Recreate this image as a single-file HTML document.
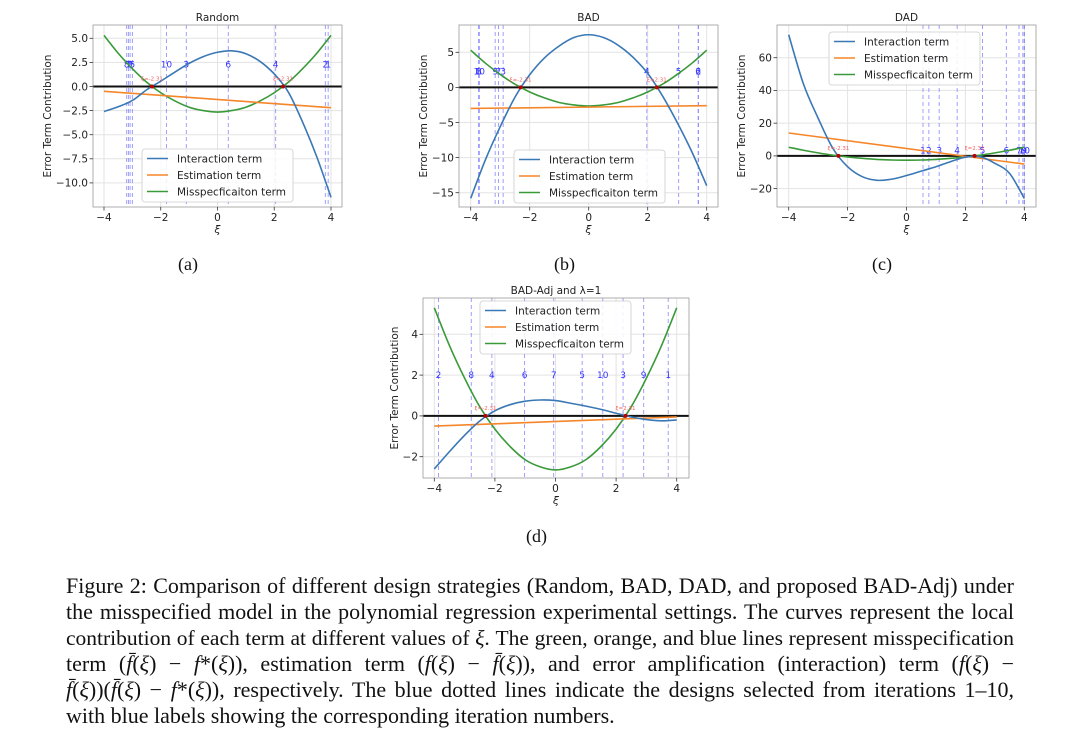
<!DOCTYPE html>
<html><head><meta charset="utf-8">
<style>
body{margin:0;background:#fff;}
#wrap{position:relative;width:1080px;height:754px;overflow:hidden;background:#fff;}
svg{position:absolute;left:0;top:0;}
.cap{position:absolute;left:66px;width:948px;font-family:"Liberation Serif",serif;font-size:22px;line-height:26px;white-space:nowrap;text-align:justify;text-align-last:justify;color:#111;}
.sub{position:absolute;font-family:"Liberation Serif",serif;font-size:18px;color:#111;}
</style></head>
<body>
<div id="wrap">
<svg id="svg" width="1080" height="754" xmlns="http://www.w3.org/2000/svg"></svg>
<div class="sub" style="left:178px;top:254px">(a)</div>
<div class="sub" style="left:554px;top:254px">(b)</div>
<div class="sub" style="left:872px;top:254px">(c)</div>
<div class="sub" style="left:526px;top:526px">(d)</div>
<div class="cap" style="top:573px">Figure 2: Comparison of different design strategies (Random, BAD, DAD, and proposed BAD-Adj) under</div>
<div class="cap" style="top:599px">the misspecified model in the polynomial regression experimental settings. The curves represent the local</div>
<div class="cap" style="top:625px">contribution of each term at different values of <i>ξ</i>. The green, orange, and blue lines represent misspecification</div>
<div class="cap" style="top:651px">term (<i>f̄</i>(<i>ξ</i>) − <i>f</i>*(<i>ξ</i>)), estimation term (<i>f</i>(<i>ξ</i>) − <i>f̄</i>(<i>ξ</i>)), and error amplification (interaction) term (<i>f</i>(<i>ξ</i>) −</div>
<div class="cap" style="top:677px"><i>f̄</i>(<i>ξ</i>))(<i>f̄</i>(<i>ξ</i>) − <i>f</i>*(<i>ξ</i>)), respectively. The blue dotted lines indicate the designs selected from iterations 1–10,</div>
<div class="cap" id="lastcap" style="top:703px;text-align-last:left">with blue labels showing the corresponding iteration numbers.</div>
</div>
<script>
// ---- shared data ----
const xGrid = [-4,-3.5,-3,-2.5,-2,-1.5,-1,-0.5,0,0.5,1,1.5,2,2.5,3,3.5,4];
const greenVals = [5.3,3.45,1.85,0.45,-0.65,-1.5,-2.15,-2.5,-2.65,-2.5,-2.15,-1.5,-0.65,0.45,1.85,3.45,5.3];
const orangeX = [-4,4];
const roots = [-2.31,2.31];
// ---- panel (a) Random ----
const blueA = [-2.6,-2.1,-1.45,-0.35,0.55,1.5,2.4,3.1,3.55,3.7,3.4,2.6,1.3,-0.6,-3.7,-7.3,-11.5];
const orangeA = [-0.5,-2.2];
const designsA = [3.9,3.8,-1.1,2.05,-3.0,0.38,-3.14,-3.2,-3.08,-1.8];
const yTicksA = [5,2.5,0,-2.5,-5,-7.5,-10];
const yTickLabelsA = ["5.0","2.5","0.0","−2.5","−5.0","−7.5","−10.0"];
// ---- panel (b) BAD ----
const blueB = [-15.8,-10.3,-5.6,-1.4,1.8,4.2,5.9,7.1,7.5,7.1,6.0,4.3,2.0,-1.2,-5.0,-9.2,-14.0];
const orangeB = [-3.0,-2.6];
const designsB = [-3.73,3.72,-2.9,1.97,3.05,3.71,-3.06,-3.72,-3.17,-3.71];
const yTicksB = [5,0,-5,-10,-15];
const yTickLabelsB = ["5","0","−5","−10","−15"];
// ---- panel (c) DAD ----
const blueC = [74,44,23,4.6,-6.6,-12.7,-14.9,-14.2,-12,-9.3,-6.6,-3.5,-0.8,-0.5,-4.5,-10.7,-26];
const orangeC = [14,-5];
const designsC = [0.56,0.76,1.11,1.72,2.58,3.39,3.82,3.95,4.0,4.0];
const yTicksC = [60,40,20,0,-20];
const yTickLabelsC = ["60","40","20","0","−20"];
// ---- panel (d) BAD-Adj ----
const blueD = [-2.6,-1.75,-0.95,-0.25,0.25,0.55,0.72,0.78,0.75,0.62,0.48,0.32,0.13,-0.05,-0.18,-0.24,-0.2];
const orangeD = [-0.5,-0.05];
const designsD = [3.72,-3.86,2.23,-2.1,0.88,-1.02,-0.06,-2.78,2.91,1.56];
const yTicksD = [4,2,0,-2];
const yTickLabelsD = ["4","2","0","−2"];
const xTicks = [-4,-2,0,2,4];
const xTickLabels = ["−4","−2","0","2","4"];

const NS="http://www.w3.org/2000/svg";
const svg=document.getElementById('svg');
function mk(tag,attrs,parent){const e=document.createElementNS(NS,tag);for(const k in attrs)e.setAttribute(k,attrs[k]);(parent||svg).appendChild(e);return e;}
function spline(pts){let d="M"+pts[0][0]+","+pts[0][1];for(let i=0;i<pts.length-1;i++){const p0=pts[Math.max(0,i-1)],p1=pts[i],p2=pts[i+1],p3=pts[Math.min(pts.length-1,i+2)];
const c1=[p1[0]+(p2[0]-p0[0])/6,p1[1]+(p2[1]-p0[1])/6],c2=[p2[0]-(p3[0]-p1[0])/6,p2[1]-(p3[1]-p1[1])/6];
d+=" C"+c1[0]+","+c1[1]+" "+c2[0]+","+c2[1]+" "+p2[0]+","+p2[1];}return d;}
const FONT='"DejaVu Sans","Liberation Sans",sans-serif';

function panel(cfg){
 const g=mk('g',{});
 
 
 const X=v=>cfg.px0+(v-(-4))*(cfg.px1-cfg.px0)/8;
 const Y=v=>cfg.py0-(v*(cfg.py0-cfg.pyt)/cfg.yt);
 xTicks.forEach(t=>{const l=mk('line',{x1:X(t),x2:X(t),y1:cfg.top,y2:cfg.bottom,stroke:'#e3e3e3','stroke-width':1},g);
  });
 cfg.yTicks.forEach(t=>{const l=mk('line',{x1:cfg.left,x2:cfg.right,y1:Y(t),y2:Y(t),stroke:'#e3e3e3','stroke-width':1},g);
  });
 cfg.designs.forEach((d,i)=>{const l=mk('line',{x1:X(d),x2:X(d),y1:cfg.top,y2:cfg.bottom,stroke:'#7a7aff','stroke-width':0.9,'stroke-dasharray':'4,3','opacity':0.8},g);
  
  const t=mk('text',{x:X(d),y:Y(cfg.labelY)+3,'font-size':9,'font-family':FONT,fill:'#3333ff','text-anchor':'middle'},g);t.textContent=String(i+1);
  });
 const z=mk('line',{x1:cfg.left,x2:cfg.right,y1:Y(0),y2:Y(0),stroke:'#111','stroke-width':2},g);
 
 const gp=spline(xGrid.map((x,i)=>[X(x),Y(greenVals[i])]));
 const gr=mk('path',{d:gp,fill:'none',stroke:'#3a9a3a','stroke-width':1.6},g);
 
 const op=mk('line',{x1:X(orangeX[0]),y1:Y(cfg.orange[0]),x2:X(orangeX[1]),y2:Y(cfg.orange[1]),stroke:'#f5862a','stroke-width':1.6},g);
 
 const bp=mk('path',{d:spline(xGrid.map((x,i)=>[X(x),Y(cfg.blue[i])])),fill:'none',stroke:'#3a78b5','stroke-width':1.6},g);
 
 roots.forEach(r=>{const c=mk('circle',{cx:X(r),cy:Y(0),r:2,fill:'#b00'},g);
  
  const t=mk('text',{x:X(r),y:Y(0)-6,'font-size':5.5,'font-family':FONT,fill:'#f06060','text-anchor':'middle'},g);t.textContent='ξ='+(r<0?'-':'')+Math.abs(r).toFixed(2);
  });
 const f=mk('rect',{x:cfg.left,y:cfg.top,width:cfg.right-cfg.left,height:cfg.bottom-cfg.top,fill:'none',stroke:'#999','stroke-width':0.8},g);
 
 xTicks.forEach((t,i)=>{mk('line',{x1:X(t),x2:X(t),y1:cfg.bottom,y2:cfg.bottom+3.5,stroke:'#333','stroke-width':0.8},g);
  const tx=mk('text',{x:X(t),y:cfg.bottom+14,'font-size':10.5,'font-family':FONT,fill:'#222','text-anchor':'middle'},g);tx.textContent=xTickLabels[i];
  });
 cfg.yTicks.forEach((t,i)=>{mk('line',{x1:cfg.left-3.5,x2:cfg.left,y1:Y(t),y2:Y(t),stroke:'#333','stroke-width':0.8},g);
  const tx=mk('text',{x:cfg.left-5,y:Y(t)+3.8,'font-size':10.5,'font-family':FONT,fill:'#222','text-anchor':'end'},g);tx.textContent=cfg.yLabels[i];
  });
 const tt=mk('text',{x:(cfg.left+cfg.right)/2,y:cfg.top-4,'font-size':10.5,'font-family':FONT,fill:'#222','text-anchor':'middle'},g);tt.textContent=cfg.title;
 
 const xl=mk('text',{x:(cfg.left+cfg.right)/2,y:cfg.bottom+26,'font-size':11,'font-family':FONT,fill:'#222','text-anchor':'middle','font-style':'italic'},g);xl.textContent='ξ';
 
 const cy=(cfg.top+cfg.bottom)/2;
 const yl=mk('text',{x:cfg.ylx,y:cy,'font-size':10.5,'font-family':FONT,fill:'#222','text-anchor':'middle',transform:'rotate(-90 '+cfg.ylx+' '+cy+')'},g);yl.textContent='Error Term Contribution';
 
 const L=cfg.legend;
 const lg=mk('g',{},g);
 mk('rect',{x:L[0],y:L[1],width:151,height:53,rx:3,fill:'rgba(255,255,255,0.85)',stroke:'#ccc','stroke-width':0.8},lg);
 [['Interaction term','#3a78b5'],['Estimation term','#f5862a'],['Misspecficaiton term','#3a9a3a']].forEach((e,i)=>{
  const yy=L[1]+9.5+i*16.5;
  const s=mk('line',{x1:L[0]+5,x2:L[0]+26,y1:yy,y2:yy,stroke:e[1],'stroke-width':1.6},lg);
  
  const t=mk('text',{x:L[0]+35,y:yy+3.8,'font-size':10.5,'font-family':FONT,fill:'#222'},lg);t.textContent=e[0];
  });
}
panel({name:'panel-random',title:'Random',left:93,right:342,top:25,bottom:207,px0:104,px1:331,py0:86.5,pyt:38.3,yt:5,yTicks:yTicksA,yLabels:yTickLabelsA,blue:blueA,orange:orangeA,designs:designsA,labelY:2.3,ylx:51,legend:[142,149]});
panel({name:'panel-bad',title:'BAD',left:459,right:718,top:25,bottom:207,px0:470.7,px1:706.7,py0:87.4,pyt:52.3,yt:5,yTicks:yTicksB,yLabels:yTickLabelsB,blue:blueB,orange:orangeB,designs:designsB,labelY:2.3,ylx:427,legend:[514,150]});
panel({name:'panel-dad',title:'DAD',left:777,right:1036,top:25,bottom:207,px0:788.7,px1:1024.3,py0:155.9,pyt:57.7,yt:60,yTicks:yTicksC,yLabels:yTickLabelsC,blue:blueC,orange:orangeC,designs:designsC,labelY:3.3,ylx:745,legend:[829,32]});
panel({name:'panel-bad-adj',title:'BAD-Adj and λ=1',left:423,right:689,top:298,bottom:478,px0:434.3,px1:676.7,py0:415.9,pyt:334.3,yt:4,yTicks:yTicksD,yLabels:yTickLabelsD,blue:blueD,orange:orangeD,designs:designsD,labelY:2.0,ylx:398,legend:[480,301]});

// fit caption lines: measure natural (unjustified) width, shrink font if needed
document.querySelectorAll('.cap').forEach(el=>{
 const last=el.style.textAlignLast;
 el.style.textAlign='left';el.style.textAlignLast='left';
 const sp=document.createElement('span');sp.innerHTML=el.innerHTML;
 el.innerHTML='';el.appendChild(sp);
 let fs=22;
 while(sp.getBoundingClientRect().width>944&&fs>16){fs-=0.25;el.style.fontSize=fs+'px';}
 el.innerHTML=sp.innerHTML;
 el.style.textAlign='justify';el.style.textAlignLast=last||'justify';
});
</script>
</body></html>
